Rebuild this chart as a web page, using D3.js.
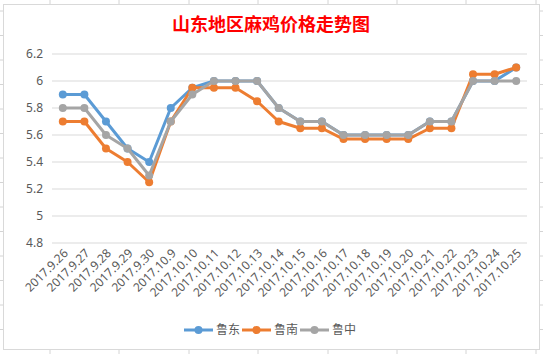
<!DOCTYPE html>
<html>
<head>
<meta charset="utf-8">
<script src="https://cdn.jsdelivr.net/npm/d3@7"></script>
<style>
  body { margin: 0; background: #fff; }
  svg { display: block; font-family: "Noto Sans CJK SC", "DejaVu Sans", sans-serif; }
</style>
</head>
<body>
<svg id="chart" width="543" height="354"></svg>
<script>
// data
const dates = ["2017.9.26", "2017.9.27", "2017.9.28", "2017.9.29", "2017.9.30", "2017.10.9",
    "2017.10.10", "2017.10.11", "2017.10.12", "2017.10.13", "2017.10.14", "2017.10.15",
    "2017.10.16", "2017.10.17", "2017.10.18", "2017.10.19", "2017.10.20", "2017.10.21",
    "2017.10.22", "2017.10.23", "2017.10.24", "2017.10.25"];
const ludong = [5.9, 5.9, 5.7, 5.5, 5.4, 5.8, 5.95, 6.0, 6.0, 6.0, 5.8, 5.7, 5.7, 5.6, 5.6, 5.6, 5.6, 5.7, 5.7, 6.0, 6.0, 6.1];
const lunan = [5.7, 5.7, 5.5, 5.4, 5.25, 5.7, 5.95, 5.95, 5.95, 5.85, 5.7, 5.65, 5.65, 5.57, 5.57, 5.57, 5.57, 5.65, 5.65, 6.05, 6.05, 6.1];
const luzhong = [5.8, 5.8, 5.6, 5.5, 5.3, 5.7, 5.9, 6.0, 6.0, 6.0, 5.8, 5.7, 5.7, 5.6, 5.6, 5.6, 5.6, 5.7, 5.7, 6.0, 6.0, 6.0];
const seriesNames = ["鲁东", "鲁南", "鲁中"];
const yTicks = [4.8, 5, 5.2, 5.4, 5.6, 5.8, 6, 6.2];

const colors = ["#5B9BD5", "#ED7D31", "#A5A5A5"];
const series = [ludong, lunan, luzhong].map((vals, i) => ({
    name: seriesNames[i],
    color: colors[i],
    values: vals.map((v, j) => ({ date: dates[j], value: v }))
}));

let svg = d3.select("#chart");

// excel cell grid behind the chart object
let gridCols = [50, 119, 189, 258, 328, 397, 466, 536];
let gridRows = d3.range(11, 354, 24.5);
svg.selectAll(".cellv").data(gridCols).join("line")
    .attr("x1", d => d).attr("x2", d => d).attr("y1", 0).attr("y2", 354)
    .style("stroke", "#d4d4d4").style("stroke-width", 1);
svg.selectAll(".cellh").data(gridRows).join("line")
    .attr("x1", 0).attr("x2", 543).attr("y1", d => d).attr("y2", d => d)
    .style("stroke", "#d4d4d4").style("stroke-width", 1);

// chart area
svg.append("rect")
    .attr("x", 3.5).attr("y", 4.5).attr("width", 536).attr("height", 345)
    .style("fill", "#fff").style("stroke", "#d9d9d9");

svg.append("text")
    .attr("x", 271).attr("y", 31)
    .attr("text-anchor", "middle")
    .style("fill", "#FF0000")
    .style("font-size", "18px")
    .style("font-weight", "bold")
    .text("山东地区麻鸡价格走势图");

let x = d3.scaleBand().domain(dates).range([52, 527]);
let y = d3.scaleLinear().domain([4.8, 6.2]).range([243, 54]);
let cx = d => x(d) + x.bandwidth() / 2;

// horizontal gridlines
svg.selectAll(".grid").data(yTicks).join("line")
    .classed("grid", true)
    .attr("x1", 52).attr("x2", 527)
    .attr("y1", d => y(d)).attr("y2", d => y(d))
    .style("stroke", "#d9d9d9").style("stroke-width", 1);

// y labels
let yAxis = svg.append("g").attr("transform", "translate(52,0)")
    .call(d3.axisLeft(y).tickValues(yTicks).tickSize(0).tickPadding(9).tickFormat(d => d3.format("")(+d.toFixed(1))));
yAxis.select(".domain").remove();
yAxis.selectAll("text").style("fill", "#595959").style("font-size", "12px")
    .style("font-family", "'Noto Sans', 'DejaVu Sans', sans-serif");

// x labels rotated
let xAxis = svg.append("g").attr("transform", "translate(0,243)")
    .call(d3.axisBottom(x).tickSize(0).tickPadding(0));
xAxis.select(".domain").remove();
xAxis.selectAll("text")
    .attr("text-anchor", "end")
    .attr("dy", "0")
    .attr("transform", "translate(6,11) rotate(-45)")
    .style("fill", "#595959").style("font-size", "12px")
    .style("font-family", "'Noto Sans', 'DejaVu Sans', sans-serif");

// lines
let line = d3.line().x(d => cx(d.date)).y(d => y(d.value));
let g = svg.selectAll(".series").data(series).join("g").classed("series", true);
g.append("path")
    .attr("d", d => line(d.values))
    .style("fill", "none")
    .style("stroke", d => d.color)
    .style("stroke-width", 3)
    .style("stroke-linejoin", "round");
g.each(function(s) {
    d3.select(this).selectAll("circle").data(s.values).join("circle")
        .attr("cx", d => cx(d.date))
        .attr("cy", d => y(d.value))
        .attr("r", 4)
        .style("fill", s.color);
});

// legend
let legendX = [184, 242, 300];
let lg = svg.selectAll(".legend").data(series).join("g")
    .classed("legend", true)
    .attr("transform", (d, i) => `translate(${legendX[i]},330)`);
lg.append("line")
    .attr("x1", 0).attr("x2", 29).attr("y1", 0).attr("y2", 0)
    .style("stroke", d => d.color).style("stroke-width", 3);
lg.append("circle")
    .attr("cx", 14.5).attr("cy", 0).attr("r", 4)
    .style("fill", d => d.color);
lg.append("text")
    .attr("x", 32).attr("y", 0).attr("dy", "0.35em")
    .style("fill", "#595959").style("font-size", "12px")
    .text(d => d.name);
</script>
</body>
</html>
